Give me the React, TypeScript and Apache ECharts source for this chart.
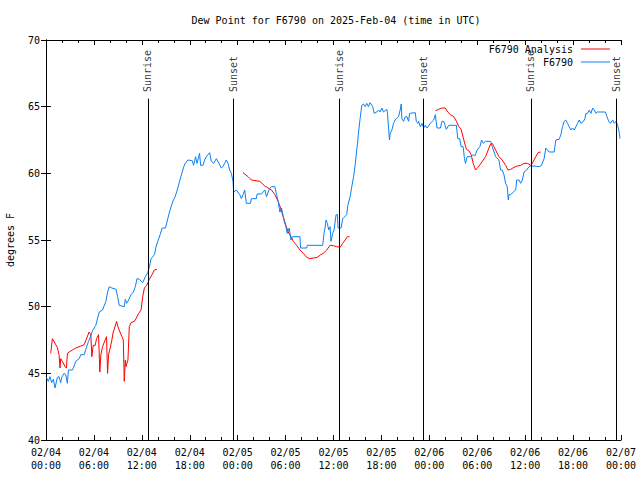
import React, { useEffect, useRef } from "react";
import * as echarts from "echarts";

const TITLE = "Dew Point for F6790 on 2025-Feb-04 (time in UTC)";
const Y_NAME = "degrees F";
const ANALYSIS_NAME = "F6790 Analysis";
const OBS_NAME = "F6790";
const MONTH = "02";
const START_DAY = 4;
const X_MIN = 0;
const X_MAX = 72;
const X_STEP = 6;
const Y_MIN = 40;
const Y_MAX = 70;
const Y_STEP = 5;

// Observations (hours since 02/04 00:00 UTC, dew point in F)
const obsHours = [
  0.04, 0.29, 0.5, 0.71, 0.92, 1.13, 1.42, 1.63, 1.84, 1.97, 2.26, 2.47, 2.68, 2.81, 3.31, 3.52, 3.73, 4.15, 4.36, 4.78,
  4.99, 5.32, 5.61, 5.82, 6.24, 6.66, 7.08, 7.5, 7.71, 7.92, 8.25, 8.76, 8.97, 9.17, 9.8, 9.93, 10.1, 10.35, 10.64, 10.93,
  11.19, 11.39, 11.69, 12.11, 12.44, 12.74, 12.95, 13.16, 13.58, 13.78, 13.99, 14.29, 14.54, 14.96, 15.25, 15.46, 15.88,
  16.17, 16.51, 16.72, 17.01, 17.26, 17.43, 17.76, 18.31, 18.48, 18.73, 18.9, 19.02, 19.23, 19.36, 19.65, 19.86, 20.07,
  20.49, 20.7, 20.99, 21.33, 21.66, 21.95, 22.16, 22.37, 22.58, 22.79, 23.0, 23.21, 23.42, 23.5, 23.84, 24.26, 24.47,
  24.67, 24.88, 25.09, 25.6, 25.72, 26.35, 26.43, 26.98, 27.19, 27.4, 27.61, 27.82, 28.03, 28.24, 28.66, 28.87, 29.07,
  29.28, 29.49, 29.62, 29.83, 30.04, 30.2, 30.46, 30.67, 30.88, 31.8, 31.88, 32.64, 32.72, 34.65, 34.81, 34.94, 35.07,
  35.23, 35.4, 35.57, 35.69, 35.9, 36.07, 36.32, 36.49, 36.57, 36.95, 37.16, 37.66, 37.79, 38.08, 38.29, 38.5, 38.71,
  38.92, 39.04, 39.12, 39.33, 39.54, 39.75, 39.96, 40.17, 40.37, 40.58, 40.92, 41.09, 41.42, 41.63, 41.84, 42.05, 42.26,
  42.68, 42.76, 42.93, 43.01, 43.1, 43.31, 43.52, 43.73, 44.14, 44.35, 44.48, 44.56, 44.77, 44.98, 45.19, 45.4, 45.53,
  46.24, 46.37, 46.57, 46.66, 46.87, 47.08, 47.29, 47.5, 47.71, 48.12, 48.54, 48.75, 48.96, 49.38, 49.59, 49.8, 50.13,
  50.43, 51.39, 51.56, 51.81, 51.98, 52.23, 52.4, 52.53, 52.74, 53.15, 53.49, 53.7, 53.99, 54.33, 54.54, 54.75, 55.04,
  55.67, 55.88, 56.3, 56.71, 56.92, 57.13, 57.34, 57.55, 57.76, 57.89, 57.97, 58.18, 58.52, 58.81, 58.94, 59.23, 59.44,
  59.65, 59.86, 60.19, 60.36, 60.61, 61.11, 61.74, 62.04, 62.37, 62.58, 63.0, 63.63, 63.84, 64.26, 64.47, 64.68, 64.88,
  65.09, 65.3, 65.51, 65.72, 65.93, 66.14, 66.35, 66.56, 66.77, 66.98, 67.31, 67.48, 67.61, 67.82, 68.03, 68.24, 68.45,
  68.66, 68.86, 69.07, 70.04, 70.25, 70.46, 70.67, 70.96, 71.17, 71.38, 71.59, 71.8, 71.88,
];
const obsValues = [
  44.7, 44.4, 44.75, 44.3, 44.55, 43.9, 44.7, 44.75, 44.3, 44.7, 45.0, 44.9, 44.25, 45.25, 45.25, 45.55, 45.9, 46.1, 46.4, 46.4,
  46.8, 47.4, 47.8, 48.2, 48.6, 49.6, 49.75, 50.4, 51.1, 51.5, 51.4, 51.3, 50.75, 50.1, 50.0, 50.55, 50.25, 50.5, 50.9, 51.1,
  51.5, 52.1, 52.05, 51.8, 52.25, 52.55, 53.0, 53.6, 53.9, 54.5, 54.9, 55.4, 55.9, 55.9, 56.6, 57.1, 57.9,
  58.25, 58.9, 59.4, 60.0, 60.5, 60.75, 61.0, 60.95, 60.6, 61.25, 60.75, 61.0, 61.5, 60.6, 60.6, 61.0, 61.25,
  61.55, 60.9, 60.75, 61.1, 60.75, 60.4, 60.5, 60.75, 61.0, 60.75, 60.25, 60.0, 59.4, 58.6, 58.75, 58.4, 58.1,
  58.4, 58.75, 57.75, 57.75, 58.1, 58.1, 58.45, 58.45, 58.6, 58.75, 58.25, 58.6, 58.9, 59.0, 59.0, 58.4, 57.9,
  57.1, 57.4, 57.0, 56.4, 56.0, 55.5, 55.9, 55.0, 55.25, 55.25, 54.4, 54.4, 54.6, 54.6, 55.5, 55.9, 56.5,
  56.25, 55.75, 56.0, 54.9, 55.5, 55.75, 56.9, 56.9, 55.9, 55.9, 56.6, 56.9, 57.6, 58.25, 59.0, 59.7, 60.6,
  61.8, 62.4, 63.0, 64.1, 65.1, 65.2, 65.0, 65.25, 65.0, 65.3, 65.0, 64.5, 64.6, 64.75, 64.6, 64.9, 64.6,
  64.8, 64.5, 63.1, 62.5, 63.0, 63.25, 63.75, 64.0, 64.25, 64.75, 65.2, 64.1, 63.9, 64.25, 64.25, 63.9, 64.5,
  64.55, 63.9, 63.75, 63.9, 63.5, 63.75, 63.4, 63.6, 63.4, 63.75, 64.0, 64.4, 63.4, 63.4, 63.9, 63.9, 63.3,
  63.6, 63.6, 62.6, 62.6, 62.0, 62.0, 61.1, 60.75, 61.25, 61.25, 61.4, 61.3, 61.75, 62.0, 62.5, 62.25, 62.4,
  62.4, 62.0, 61.25, 61.0, 60.25, 60.25, 59.9, 59.25, 59.0, 58.0, 58.4, 58.4, 58.6, 58.75, 59.5, 59.5, 59.25,
  59.5, 60.1, 60.25, 60.4, 60.55, 60.55, 60.5, 60.6, 61.1, 61.9, 61.6, 61.6, 62.5, 62.55, 62.9, 63.5, 63.9,
  64.0, 63.75, 63.5, 63.25, 63.4, 63.25, 63.5, 63.75, 64.0, 63.75, 63.9, 64.1, 64.5, 64.5, 64.75, 64.5, 64.9,
  64.75, 64.5, 64.6, 64.6, 64.25, 63.9, 63.75, 64.0, 63.75, 63.9, 63.6, 63.0, 62.6,
];

// Analysis, three separate runs
const anaHours1 = [
  0.59, 0.8, 1.42, 1.63, 1.76, 1.84, 2.05, 2.39, 2.56, 2.68, 2.89, 3.31, 3.73, 4.36, 4.78, 5.4, 5.61, 5.74, 5.91, 6.16,
  6.33, 6.58, 6.74, 6.87, 7.08, 7.41, 7.58, 7.71, 7.83, 8.04, 8.25, 8.42, 8.59, 8.84, 9.01, 9.26, 9.51, 9.68, 9.8, 9.93,
  10.01, 10.26, 10.43, 10.64, 11.06, 11.27, 11.6, 11.9, 12.11, 12.32, 12.61, 12.94, 13.28, 13.57, 13.87,
];
const anaValues1 = [
  46.5, 47.6, 46.95, 46.4, 45.4, 46.1, 45.9, 45.5, 45.4, 46.5, 46.6, 46.75, 46.9, 47.05, 47.15, 48.1, 47.9, 46.25, 47.1, 47.1,
  47.6, 47.9, 45.1, 46.4, 47.0, 47.5, 47.75, 45.0, 46.4, 46.9, 47.5, 48.1, 48.4, 48.9, 48.5, 48.1, 47.75, 47.5, 44.4, 46.0,
  45.5, 46.0, 48.5, 48.8, 48.9, 49.1, 49.5, 49.75, 50.75, 51.4, 51.6, 52.05, 52.4, 52.75, 52.8,
];
const anaHours2 = [
  24.67, 25.3, 25.72, 26.77, 27.4, 28.24, 28.66, 29.07, 29.37, 29.7, 30.04, 30.33, 30.67, 30.96, 31.38, 31.8, 32.22,
  32.64, 33.05, 33.98, 34.4, 34.73, 35.15, 35.57, 35.99, 36.41, 36.82, 37.16, 37.45, 37.75, 38.0,
];
const anaValues2 = [
  60.05, 59.75, 59.5, 59.4, 59.05, 58.75, 58.4, 57.9, 57.4, 56.75, 56.1, 55.6, 55.25, 54.9, 54.6, 54.25, 54.0,
  53.7, 53.6, 53.7, 53.9, 54.0, 54.25, 54.6, 54.57, 54.5, 54.45, 54.75, 55.0, 55.25, 55.25,
];
const anaHours3 = [
  48.76, 49.17, 49.59, 50.01, 50.3, 50.64, 51.06, 51.39, 51.69, 51.98, 52.32, 52.65, 52.94, 53.24, 53.49, 53.78, 54.08,
  54.41, 54.75, 55.04, 55.37, 55.67, 55.88, 56.09, 56.42, 56.71, 57.13, 57.55, 57.85, 58.18, 58.6, 59.02, 59.44, 59.86,
  60.28, 60.69, 60.9, 61.32, 61.62, 61.95,
];
const anaValues3 = [
  64.7, 64.8, 64.9, 64.9, 64.6, 64.4, 64.25, 63.9, 63.5, 63.3, 62.5, 61.8, 61.7, 61.4, 60.75, 60.25, 60.45,
  60.7, 61.0, 61.25, 61.75, 62.2, 62.25, 62.0, 61.6, 61.25, 61.0, 60.6, 60.25, 60.3, 60.45, 60.55, 60.6, 60.75,
  60.75, 60.6, 60.75, 61.25, 61.55, 61.6,
];

const sunriseHours = [12.77, 36.73, 60.73];
const sunsetHours = [23.5, 47.3, 71.38];
const SUNRISE = "Sunrise";
const SUNSET = "Sunset";

const FONT = "'DejaVu Sans Mono', 'Liberation Mono', monospace";
const RED = "#ff0000";
const BLUE = "#0a80f5";

const zip = (xs: number[], ys: number[]) => xs.map((x, i) => [x, ys[i]]);
const pad = (n: number) => (n < 10 ? "0" + n : String(n));

export default function App() {
  const ref = useRef<HTMLDivElement>(null);
  useEffect(() => {
    document.body.style.margin = "0";
    if (!ref.current) return;
    const chart = echarts.init(ref.current, undefined, { renderer: "svg" });
    const labelTop = 66.1;
    const lineTop = 65.6;
    const events = [
      ...sunriseHours.map((h) => ({ name: SUNRISE, value: [h, labelTop] })),
      ...sunsetHours.map((h) => ({ name: SUNSET, value: [h, labelTop] })),
    ];
    const eventLines = [...sunriseHours, ...sunsetHours].map((h) => [
      { coord: [h, Y_MIN] },
      { coord: [h, lineTop] },
    ]);
    const textStyle = { fontFamily: FONT, fontSize: 10, color: "#000" };
    const xBase = {
      type: "value",
      min: X_MIN,
      max: X_MAX,
      interval: X_STEP,
      axisLine: { show: true, lineStyle: { color: "#000", width: 1 } },
      axisTick: { show: true, inside: true, length: 5, lineStyle: { color: "#000" } },
      minorTick: { show: true, splitNumber: 3, length: 3, lineStyle: { color: "#000" } },
      splitLine: { show: false },
    };
    const yBase = {
      type: "value",
      min: Y_MIN,
      max: Y_MAX,
      interval: Y_STEP,
      axisLine: { show: true, lineStyle: { color: "#000", width: 1 } },
      axisTick: { show: true, inside: true, length: 5, lineStyle: { color: "#000" } },
      splitLine: { show: false },
    };
    const lineSeries = (name: string, color: string, data: number[][]) => ({
      type: "line",
      name,
      data,
      symbol: "none",
      showSymbol: false,
      color,
      lineStyle: { color, width: 1 },
      silent: true,
    });
    const legendBase = {
      right: 30,
      padding: 0,
      align: "right",
      icon: "rect",
      itemWidth: 29,
      itemHeight: 1,
      textStyle: { ...textStyle, padding: [0, 3, 0, 0] },
    };
    chart.setOption({
      animation: false,
      backgroundColor: "#fff",
      title: {
        text: TITLE,
        left: 331,
        top: 10,
        textAlign: "center",
        textStyle: { ...textStyle, fontWeight: "normal" },
      },
      legend: [
        { ...legendBase, data: [ANALYSIS_NAME], top: 44 },
        { ...legendBase, data: [OBS_NAME], top: 57 },
      ],
      grid: { left: 46, right: 19, top: 40, bottom: 40, containLabel: false, outerBoundsMode: "none" },
      xAxis: [
        {
          ...xBase,
          position: "bottom",
          axisLabel: {
            ...textStyle,
            margin: 6,
            lineHeight: 13,
            formatter: (v: number) => {
              const d = START_DAY + Math.floor(v / 24);
              const hh = v % 24;
              return `${MONTH}/${pad(d)}\n${pad(hh)}:00`;
            },
          },
        },
        { ...xBase, position: "top", axisLabel: { show: false } },
      ],
      yAxis: [
        {
          ...yBase,
          position: "left",
          name: Y_NAME,
          nameLocation: "middle",
          nameGap: 31,
          nameTextStyle: textStyle,
          axisLabel: { ...textStyle, margin: 6 },
        },
        { ...yBase, position: "right", axisLabel: { show: false } },
      ],
      series: [
        lineSeries(ANALYSIS_NAME, RED, zip(anaHours1, anaValues1)),
        lineSeries(ANALYSIS_NAME, RED, zip(anaHours2, anaValues2)),
        lineSeries(ANALYSIS_NAME, RED, zip(anaHours3, anaValues3)),
        lineSeries(OBS_NAME, BLUE, zip(obsHours, obsValues)),
        {
          type: "scatter",
          name: "events",
          data: events,
          symbolSize: 0,
          silent: true,
          label: {
            show: true,
            position: "inside",
            rotate: 90,
            align: "left",
            verticalAlign: "middle",
            formatter: (p: any) => p.name,
            ...textStyle,
          },
          markLine: {
            silent: true,
            symbol: ["none", "none"],
            label: { show: false },
            lineStyle: { color: "#000", width: 1, type: "solid" },
            data: eventLines,
          },
        },
      ],
    });
    return () => chart.dispose();
  }, []);
  return <div ref={ref} style={{ width: 640, height: 480 }} />;
}
